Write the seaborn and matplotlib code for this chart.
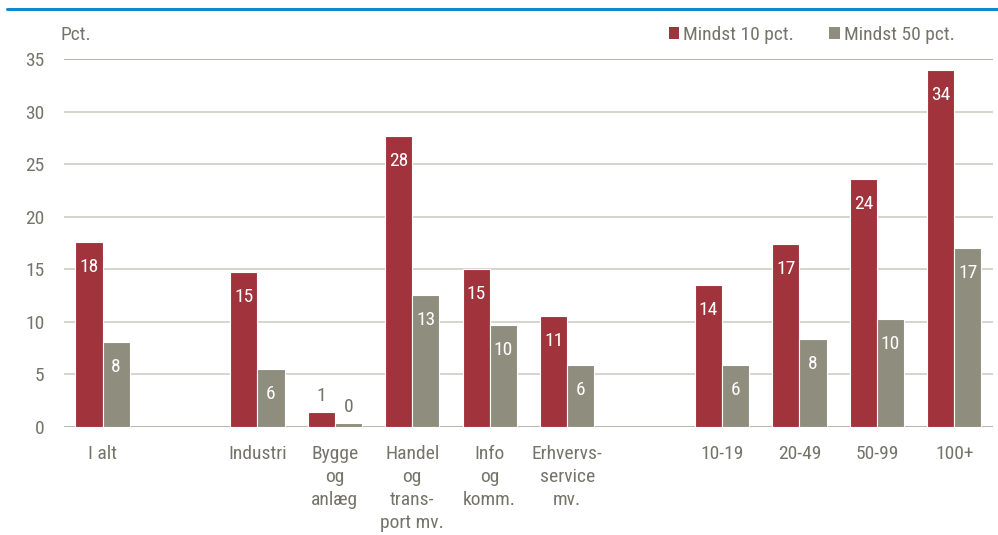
import matplotlib
matplotlib.use("Agg")
import matplotlib.pyplot as plt
import matplotlib.font_manager as fm
import seaborn as sns
import pandas as pd
import numpy as np
from matplotlib.patches import Patch
from matplotlib.lines import Line2D

categories = ["I alt", " ", "Industri", "Bygge\nog\nanlæg", "Handel\nog\ntrans-\nport mv.",
              "Info\nog\nkomm.", "Erhvervs-\nservice\nmv.", "  ", "10-19", "20-49", "50-99", "100+"]
mindst10 = [17.6, np.nan, 14.7, 1.4, 27.7, 15.0, 10.6, np.nan, 13.5, 17.4, 23.6, 34.0]
mindst50 = [8.1, np.nan, 5.5, 0.35, 12.6, 9.7, 5.9, np.nan, 5.9, 8.4, 10.3, 17.0]
labels10 = ["18", "", "15", "1", "28", "15", "11", "", "14", "17", "24", "34"]
labels50 = ["8", "", "6", "0", "13", "10", "6", "", "6", "8", "10", "17"]
series = ["Mindst 10 pct.", "Mindst 50 pct."]
yticks = [0, 5, 10, 15, 20, 25, 30, 35]

RED = "#a0333c"
GREY = "#8f8d7e"
TXT = "#75746a"
FS = 14

sns.set_theme(style="white")
names = {f.name for f in fm.fontManager.ttflist}
fam = [f for f in ["Liberation Sans Narrow", "Roboto Condensed", "Liberation Sans"] if f in names] + ["DejaVu Sans"]
plt.rcParams["font.family"] = fam

rows = []
for c, a, b in zip(categories, mindst10, mindst50):
    rows.append({"cat": c, "series": series[0], "val": a})
    rows.append({"cat": c, "series": series[1], "val": b})
df = pd.DataFrame(rows)

fig = plt.figure(figsize=(9.98, 5.35), dpi=100)
ax = fig.add_axes([0.064, 0.2019, 0.931, 0.6878])
sns.barplot(data=df, x="cat", y="val", hue="series", order=categories, hue_order=series,
            palette=[RED, GREY], width=0.7, edgecolor="white", linewidth=0.8,
            ax=ax, legend=False, saturation=1)

ax.set_xlim(-0.5, len(categories) - 0.5)
ax.set_ylim(0, 35)
ax.set_yticks(yticks)
ax.set_yticklabels([str(t) for t in yticks])
for t in yticks:
    col = "#a9a79c" if t in (0, 35) else "#d0cec5"
    ax.axhline(t, color=col, lw=1.2, zorder=0)
for s in ax.spines.values():
    s.set_visible(False)
ax.set_xlabel("")
ax.set_ylabel("")
ax.tick_params(axis="both", length=0, labelsize=FS, colors=TXT)
ax.tick_params(axis="y", pad=14)
ax.tick_params(axis="x", pad=13)
for lab in ax.get_xticklabels():
    lab.set_linespacing(1.35)
    lab.set_verticalalignment("top")

# value labels
for cont, labs in zip(ax.containers, [labels10, labels50]):
    for bar in cont.patches:
        h = bar.get_height()
        if np.isnan(h):
            continue
        x = bar.get_x() + bar.get_width() / 2
        idx = int(round(x))
        lab = labs[idx]
        if lab == "":
            continue
        if h < 4:
            ax.annotate(lab, (x, h), xytext=(0, 12), textcoords="offset points",
                        ha="center", va="center", fontsize=FS, color=TXT)
        else:
            ax.annotate(lab, (x, h), xytext=(0, -18), textcoords="offset points",
                        ha="center", va="center", fontsize=FS, color="white")

fig.text(60 / 998, 1 - 35 / 535, "Pct.", fontsize=FS, color=TXT, ha="left", va="center")

handles = [Patch(facecolor=RED, edgecolor="none"), Patch(facecolor=GREY, edgecolor="none")]
leg = fig.legend(handles, series, loc="center right", bbox_to_anchor=(972 / 998, 1 - 35 / 535),
                 ncol=2, frameon=False, fontsize=FS, handlelength=0.55, handleheight=0.55,
                 handletextpad=0.2, columnspacing=1.8, labelcolor=TXT)

fig.add_artist(Line2D([7 / 998, 1.0], [1 - 8.5 / 535, 1 - 8.5 / 535], color="#0a8ccc", lw=2.2))

fig.savefig("out.png", dpi=100)
